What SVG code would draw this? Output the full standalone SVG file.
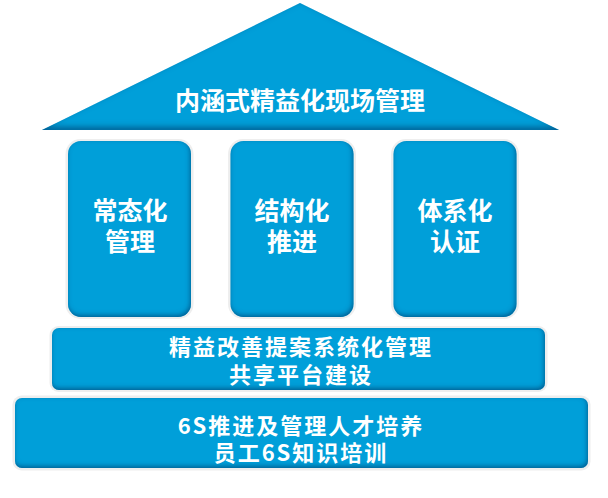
<svg xmlns="http://www.w3.org/2000/svg" width="608" height="498" viewBox="0 0 608 498">
<defs>
<filter id="inset" x="-10%" y="-10%" width="120%" height="120%">
<feComponentTransfer in="SourceAlpha" result="inv"><feFuncA type="table" tableValues="1 0"/></feComponentTransfer>
<feGaussianBlur in="inv" stdDeviation="2.5" result="blur"/>
<feOffset in="blur" dx="-1" dy="-2" result="off"/>
<feFlood flood-color="#003f78" flood-opacity="0.85"/>
<feComposite in2="off" operator="in" result="shadow"/>
<feComposite in="shadow" in2="SourceAlpha" operator="in" result="clip"/>
<feMerge><feMergeNode in="SourceGraphic"/><feMergeNode in="clip"/></feMerge>
</filter>
<filter id="roofshade" x="-5%" y="-5%" width="110%" height="110%">
<feComponentTransfer in="SourceAlpha" result="inv"><feFuncA type="table" tableValues="1 0"/></feComponentTransfer>
<feGaussianBlur in="inv" stdDeviation="3" result="blur"/>
<feOffset in="blur" dx="0" dy="-3" result="off"/>
<feFlood flood-color="#003f78" flood-opacity="0.9"/>
<feComposite in2="off" operator="in" result="shadow"/>
<feComposite in="shadow" in2="SourceAlpha" operator="in" result="clip"/>
<feMerge><feMergeNode in="SourceGraphic"/><feMergeNode in="clip"/></feMerge>
</filter>
</defs>
<style>
.blue{fill:#009fd9;filter:url(#inset)}
.roof{fill:#009fd9;filter:url(#roofshade)}
.edge{fill:#eeeeee}
text{font-family:"Noto Sans CJK SC","Noto Sans",sans-serif;font-weight:bold;fill:#ffffff;text-anchor:middle}
.t25{font-size:25px}
.t22{font-size:22px;letter-spacing:2px}
</style>
<rect width="608" height="498" fill="#ffffff"/>
<g id="roof">
<polygon class="roof" points="300,3 559,130 42,130"/>
<text class="t25" x="300" y="110">内涵式精益化现场管理</text>
</g>
<g id="pillar1">
<rect class="edge" x="65.500" y="139" width="128" height="180" rx="15"/>
<rect class="blue" x="68" y="141" width="123" height="176" rx="13"/>
<text class="t25" x="130" y="220">常态化</text>
<text class="t25" x="130" y="251">管理</text>
</g>
<g id="pillar2">
<rect class="edge" x="228" y="139" width="128" height="180" rx="15"/>
<rect class="blue" x="230.500" y="141" width="123" height="176" rx="13"/>
<text class="t25" x="292" y="220">结构化</text>
<text class="t25" x="292" y="251">推进</text>
</g>
<g id="pillar3">
<rect class="edge" x="391" y="139" width="128" height="180" rx="15"/>
<rect class="blue" x="393.500" y="141" width="123" height="176" rx="13"/>
<text class="t25" x="455" y="220">体系化</text>
<text class="t25" x="455" y="251">认证</text>
</g>
<g id="bar1">
<rect class="edge" x="49.500" y="326" width="498" height="66" rx="9"/>
<rect class="blue" x="52" y="328" width="493" height="62" rx="7"/>
<text class="t22" x="301" y="355">精益改善提案系统化管理</text>
<text class="t22" x="301" y="383">共享平台建设</text>
</g>
<g id="bar2">
<rect class="edge" x="12.500" y="395.500" width="578" height="75" rx="9"/>
<rect class="blue" x="15" y="398" width="573" height="70" rx="7"/>
<text class="t22" x="301" y="434">6S推进及管理人才培养</text>
<text class="t22" x="301" y="461">员工6S知识培训</text>
</g>
<g id="connectors"/>
</svg>
